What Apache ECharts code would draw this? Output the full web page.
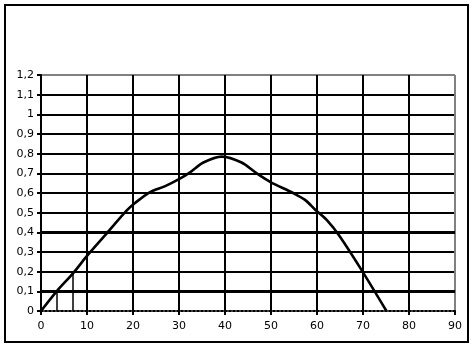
<!DOCTYPE html>
<html>
<head>
<meta charset="utf-8">
<script src="https://cdn.jsdelivr.net/npm/echarts@6/dist/echarts.min.js"></script>
<style>
html,body{margin:0;padding:0;background:#fff;}
#frame{position:absolute;left:4px;top:4px;width:461px;height:335px;border:2px solid #000;}
#chart{position:absolute;left:0;top:0;width:473px;height:348px;}
</style>
</head>
<body>
<div id="frame"></div>
<div id="chart"></div>
<script>
const xValues = [0, 3.4, 6.9, 10, 14.3, 18.6, 20.5, 23.7, 27, 30, 32.4, 35.3, 39.3, 43.6, 46.9, 49.8, 54.8, 57.4, 59.6, 62.1, 65, 69.7, 75.1];
const yValues = [0, 0.1, 0.19, 0.28, 0.395, 0.51, 0.55, 0.605, 0.635, 0.67, 0.705, 0.755, 0.785, 0.755, 0.70, 0.657, 0.60, 0.565, 0.515, 0.463, 0.378, 0.208, 0];
const dropX = [3.4, 6.9];
const dropY = [0.1, 0.19];
const heavyGridY = [0.1, 0.4];
const xTicks = [0, 10, 20, 30, 40, 50, 60, 70, 80, 90];
const yTicks = [0, 0.1, 0.2, 0.3, 0.4, 0.5, 0.6, 0.7, 0.8, 0.9, 1, 1.1, 1.2];

const chart = echarts.init(document.getElementById('chart'), null, {renderer: 'canvas'});
const font = 'DejaVu Sans';
const ySplitColors = yTicks.map((v, i) => i === 0 ? 'rgba(0,0,0,0)' : (i === yTicks.length - 1 ? '#808080' : '#000'));
const xSplitColors = xTicks.map((v, i) => i === 0 ? 'rgba(0,0,0,0)' : (i === xTicks.length - 1 ? '#808080' : '#000'));

chart.setOption({
  animation: false,
  backgroundColor: 'transparent',
  grid: {left: 41, right: 18, top: 75, bottom: 37},
  xAxis: {
    type: 'value', min: xTicks[0], max: xTicks[xTicks.length - 1], interval: 10,
    axisLine: {show: true, lineStyle: {color: '#000', width: 2, type: [2, 2]}},
    axisTick: {show: true, length: 4, lineStyle: {color: '#000', width: 2}},
    axisLabel: {color: '#000', fontFamily: font, fontSize: 11, margin: 10},
    splitLine: {show: true, lineStyle: {color: xSplitColors, width: 2}}
  },
  yAxis: {
    type: 'value', min: yTicks[0], max: yTicks[yTicks.length - 1], interval: 0.1,
    axisLine: {show: true, lineStyle: {color: '#000', width: 2}},
    axisTick: {show: true, length: 4, lineStyle: {color: '#000', width: 2}},
    axisLabel: {color: '#000', fontFamily: font, fontSize: 11, margin: 7,
      formatter: v => String(Math.round(v * 10) / 10).replace('.', ',')},
    splitLine: {show: true, lineStyle: {color: ySplitColors, width: 2}}
  },
  series: [{
    type: 'line',
    data: xValues.map((x, i) => [x, yValues[i]]),
    smooth: 0.3,
    symbol: 'none',
    z: 3,
    lineStyle: {color: '#000', width: 2.6},
    markLine: {
      silent: true, symbol: 'none', label: {show: false},
      lineStyle: {color: '#000', width: 1.5, type: 'solid'},
      data: dropX.map((x, i) => [{coord: [x, 0]}, {coord: [x, dropY[i]]}])
        .concat(heavyGridY.map(y => ({yAxis: y, lineStyle: {width: 3, color: '#000', type: 'solid'}})))
    }
  }]
});
</script>
</body>
</html>
